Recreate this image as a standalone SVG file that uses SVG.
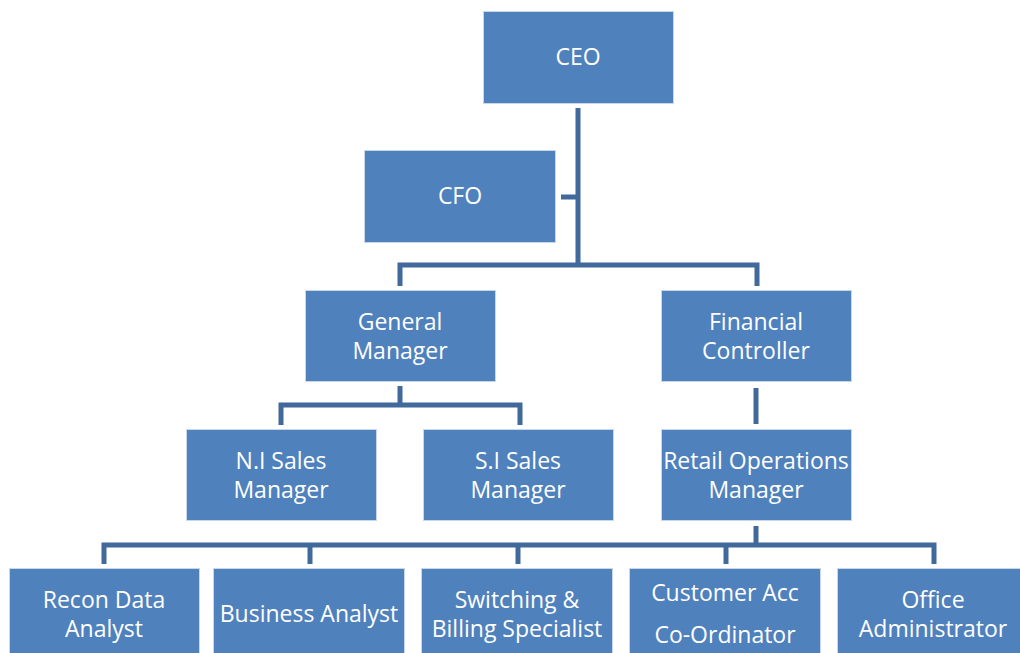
<svg xmlns="http://www.w3.org/2000/svg" width="1020" height="653" viewBox="0 0 1020 653">
  <style>
    .box { fill: #4f81bd; stroke: #c9d7ea; stroke-width: 1; }
    .lbl { font-family: "Open Sans", Lato, "Liberation Sans", sans-serif; font-size: 23px; fill: #ffffff; text-anchor: middle; }
    .link { fill: none; stroke: #41699b; stroke-width: 5; stroke-linejoin: miter; }
  </style>
  <rect width="1020" height="653" fill="#ffffff"/>

  <!-- reporting lines -->
  <g id="connectors">
    <path class="link" d="M578 108 V265"/>
    <path class="link" d="M561 197 H578"/>
    <path class="link" d="M400 286 V265 H757 V286"/>
    <path class="link" d="M400 386 V405"/>
    <path class="link" d="M281 425 V405 H520 V425"/>
    <path class="link" d="M756 388 V424"/>
    <path class="link" d="M756 526 V545"/>
    <path class="link" d="M104 564 V545 H934 V564"/>
    <path class="link" d="M310 545 V564"/>
    <path class="link" d="M518 545 V564"/>
    <path class="link" d="M726 545 V564"/>
  </g>

  <g id="ceo">
    <rect class="box" x="483.5" y="11.5" width="190" height="92"/>
    <text class="lbl" x="578" y="65">CEO</text>
  </g>
  <g id="cfo">
    <rect class="box" x="364.5" y="150.5" width="191" height="92"/>
    <text class="lbl" x="460" y="204">CFO</text>
  </g>
  <g id="general-manager">
    <rect class="box" x="305.5" y="290.5" width="190" height="91"/>
    <text class="lbl" x="400" y="330">General</text>
    <text class="lbl" x="400" y="359">Manager</text>
  </g>
  <g id="financial-controller">
    <rect class="box" x="661.5" y="290.5" width="190" height="91"/>
    <text class="lbl" x="756" y="330">Financial</text>
    <text class="lbl" x="756" y="359">Controller</text>
  </g>
  <g id="ni-sales-manager">
    <rect class="box" x="186.5" y="429.5" width="190" height="91"/>
    <text class="lbl" x="281" y="469">N.I Sales</text>
    <text class="lbl" x="281" y="498">Manager</text>
  </g>
  <g id="si-sales-manager">
    <rect class="box" x="423.5" y="429.5" width="190" height="91"/>
    <text class="lbl" x="518" y="469">S.I Sales</text>
    <text class="lbl" x="518" y="498">Manager</text>
  </g>
  <g id="retail-operations-manager">
    <rect class="box" x="661.5" y="429.5" width="190" height="91"/>
    <text class="lbl" x="756" y="469">Retail Operations</text>
    <text class="lbl" x="756" y="498">Manager</text>
  </g>
  <g id="recon-data-analyst">
    <rect class="box" x="9.5" y="568.5" width="190" height="92"/>
    <text class="lbl" x="104" y="608">Recon Data</text>
    <text class="lbl" x="104" y="637">Analyst</text>
  </g>
  <g id="business-analyst">
    <rect class="box" x="213.5" y="568.5" width="191" height="92"/>
    <text class="lbl" x="309" y="622">Business Analyst</text>
  </g>
  <g id="switching-billing-specialist">
    <rect class="box" x="421.5" y="568.5" width="191" height="92"/>
    <text class="lbl" x="517" y="608">Switching &amp;</text>
    <text class="lbl" x="517" y="637">Billing Specialist</text>
  </g>
  <g id="customer-acc-coordinator">
    <rect class="box" x="629.5" y="568.5" width="191" height="92"/>
    <text class="lbl" x="725" y="601">Customer Acc</text>
    <text class="lbl" x="725" y="643">Co-Ordinator</text>
  </g>
  <g id="office-administrator">
    <rect class="box" x="837.5" y="568.5" width="191" height="92"/>
    <text class="lbl" x="933" y="608">Office</text>
    <text class="lbl" x="933" y="637">Administrator</text>
  </g>
</svg>
